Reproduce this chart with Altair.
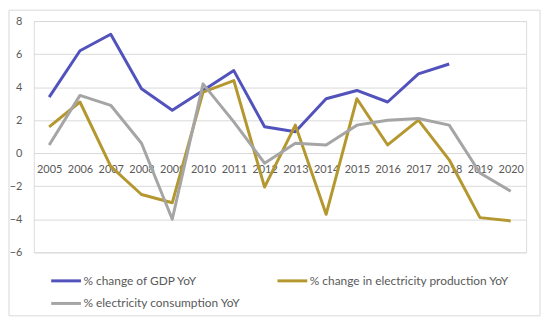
import altair as alt
import pandas as pd

years = [str(y) for y in range(2005, 2021)]
gdp = [3.4, 6.2, 7.2, 3.9, 2.6, 3.8, 5.0, 1.6, 1.3, 3.3, 3.8, 3.1, 4.8, 5.4, None, None]
production = [1.6, 3.1, -0.8, -2.5, -3.0, 3.7, 4.4, -2.05, 1.7, -3.7, 3.3, 0.5, 2.0, -0.4, -3.9, -4.1]
consumption = [0.5, 3.5, 2.9, 0.6, -4.0, 4.2, 1.9, -0.6, 0.6, 0.5, 1.7, 2.0, 2.1, 1.7, -1.2, -2.3]

series_names = ["% change of GDP YoY", "% change in electricity production YoY", "% electricity consumption YoY"]
series_colors = ["#5252BD", "#B4982F", "#A5A5A5"]

rows = []
for i, (name, vals) in enumerate(zip(series_names, [gdp, production, consumption])):
    for y, v in zip(years, vals):
        if v is not None:
            rows.append({"year": y, "value": v, "series": name})
df = pd.DataFrame(rows)

FONT = "Lato"
TXT = "#595959"

lines = alt.Chart(df).mark_line(strokeWidth=3, strokeJoin="round").encode(
    x=alt.X("year:O", scale=alt.Scale(type="point", padding=0.5, domain=years),
            axis=alt.Axis(title=None, labelAngle=0, domain=False, ticks=False, offset=-100,
                          labelPadding=11, labelFontSize=11, labelColor=TXT, labelFont=FONT, grid=False)),
    y=alt.Y("value:Q", scale=alt.Scale(domain=[-6, 8], nice=False),
            axis=alt.Axis(title=None, values=[-6, -4, -2, 0, 2, 4, 6, 8], domain=False, ticks=False,
                          labelPadding=12, labelFontSize=11, labelColor=TXT, labelFont=FONT,
                          gridColor="#D9D9D9", gridWidth=1)),
    color=alt.Color("series:N", scale=alt.Scale(domain=series_names, range=series_colors),
                    legend=alt.Legend(title=None, orient="none", legendX=16, legendY=245,
                                      columns=2, direction="horizontal", symbolType="stroke",
                                      symbolSize=900, symbolStrokeWidth=3, labelFontSize=12,
                                      labelFont=FONT, labelColor=TXT, columnPadding=30,
                                      rowPadding=-4, symbolOffset=0, labelOffset=1, labelLimit=400)),
)

border = alt.Chart(pd.DataFrame({"a": [0]})).mark_rect(fill=None, stroke="#D9D9D9", strokeWidth=1).encode(
    x=alt.value(-25), x2=alt.value(510), y=alt.value(-11), y2=alt.value(297)
)

chart = alt.layer(lines, border).properties(
    width=496, height=233,
    padding={"left": 26, "top": 12, "right": 16, "bottom": 65},
    autosize=alt.AutoSizeParams(type="none"),
).configure_view(stroke=None).configure(background="white")

chart.save("out.html", embed_options={"renderer": "svg", "actions": False})
